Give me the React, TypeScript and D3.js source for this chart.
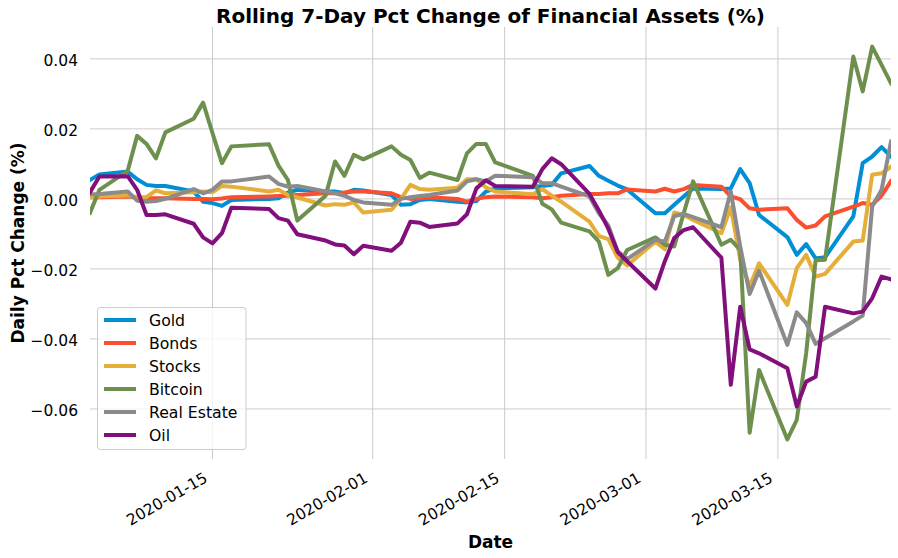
import React, {useEffect, useRef} from 'react';
import * as d3 from "d3";

// trading days shown on the chart
const dates = [
    "2020-01-02", "2020-01-03", "2020-01-06", "2020-01-07", "2020-01-08", "2020-01-09", "2020-01-10",
    "2020-01-13", "2020-01-14", "2020-01-15", "2020-01-16", "2020-01-17", "2020-01-21", "2020-01-22",
    "2020-01-23", "2020-01-24", "2020-01-27", "2020-01-28", "2020-01-29", "2020-01-30", "2020-01-31",
    "2020-02-03", "2020-02-04", "2020-02-05", "2020-02-06", "2020-02-07", "2020-02-10", "2020-02-11",
    "2020-02-12", "2020-02-13", "2020-02-14", "2020-02-18", "2020-02-19", "2020-02-20", "2020-02-21",
    "2020-02-24", "2020-02-25", "2020-02-26", "2020-02-27", "2020-02-28", "2020-03-02", "2020-03-03",
    "2020-03-04", "2020-03-05", "2020-03-06", "2020-03-09", "2020-03-10", "2020-03-11", "2020-03-12",
    "2020-03-13", "2020-03-16", "2020-03-17", "2020-03-18", "2020-03-19", "2020-03-20", "2020-03-23",
    "2020-03-24", "2020-03-25", "2020-03-26", "2020-03-27"
];

const gold = [
    0.0054, 0.0070, 0.0078, 0.0056, 0.0040, 0.0037, 0.0037, 0.0021, -0.0008, -0.0012, -0.0020, -0.0003,
    0.0000, 0.0002, 0.0018, 0.0026, 0.0021, 0.0021, 0.0016, 0.0026, 0.0024, 0.0011, -0.0017, -0.0015,
    -0.0003, 0.0000, -0.0008, -0.0010, -0.0006, 0.0021, 0.0030, 0.0033, 0.0037, 0.0040, 0.0073, 0.0094,
    0.0066, 0.0052, 0.0038, 0.0027, -0.0041, -0.0041, -0.0017, 0.0007, 0.0030, 0.0028, 0.0030, 0.0085,
    0.0045, -0.0046, -0.0109, -0.0160, -0.0129, -0.0170, -0.0167, -0.0050, 0.0102, 0.0121, 0.0148, 0.0121
];
const bonds = [
    0.0005, 0.0005, 0.0007, 0.0005, 0.0002, 0.0002, 0.0002, 0.0000, 0.0000, -0.0001, 0.0001, 0.0005,
    0.0007, 0.0008, 0.0009, 0.0011, 0.0016, 0.0016, 0.0018, 0.0021, 0.0021, 0.0016, 0.0005, 0.0000,
    0.0002, 0.0005, 0.0000, -0.0008, 0.0000, 0.0005, 0.0007, 0.0005, 0.0002, 0.0005, 0.0009, 0.0014,
    0.0014, 0.0016, 0.0016, 0.0027, 0.0021, 0.0029, 0.0021, 0.0028, 0.0040, 0.0035, 0.0007, -0.0001,
    -0.0027, -0.0031, -0.0027, -0.0060, -0.0082, -0.0076, -0.0050, -0.0022, -0.0012, -0.0017, 0.0009, 0.0051
];
const stocks = [
    0.0005, 0.0007, 0.0010, 0.0005, 0.0005, 0.0024, 0.0016, 0.0019, 0.0021, 0.0019, 0.0037, 0.0035,
    0.0021, 0.0026, 0.0011, 0.0004, -0.0019, -0.0015, -0.0017, -0.0010, -0.0039, -0.0031, 0.0000, 0.0040,
    0.0028, 0.0026, 0.0032, 0.0056, 0.0056, 0.0033, 0.0021, 0.0013, 0.0028, 0.0009, -0.0008, -0.0065,
    -0.0106, -0.0115, -0.0168, -0.0190, -0.0122, -0.0144, -0.0039, -0.0046, -0.0060, -0.0098, -0.0024, -0.0174,
    -0.0250, -0.0184, -0.0303, -0.0198, -0.0160, -0.0222, -0.0214, -0.0122, -0.0119, 0.0069, 0.0073, 0.0092
];
const bitcoin = [
    -0.0040, 0.0026, 0.0080, 0.0180, 0.0157, 0.0116, 0.0190, 0.0229, 0.0275, 0.0188, 0.0102, 0.0150,
    0.0156, 0.0095, 0.0054, -0.0062, 0.0009, 0.0107, 0.0066, 0.0126, 0.0113, 0.0150, 0.0126, 0.0111,
    0.0060, 0.0075, 0.0054, 0.0130, 0.0157, 0.0157, 0.0104, 0.0066, -0.0014, -0.0030, -0.0068, -0.0093,
    -0.0122, -0.0217, -0.0198, -0.0146, -0.0110, -0.0131, -0.0136, -0.0041, 0.0050, -0.0131, -0.0117, -0.0146,
    -0.0668, -0.0489, -0.0687, -0.0631, -0.0440, -0.0175, -0.0174, 0.0407, 0.0307, 0.0435, 0.0383, 0.0330
];
const realEstate = [
    0.0013, 0.0014, 0.0021, -0.0005, -0.0008, -0.0006, 0.0000, 0.0028, 0.0016, 0.0026, 0.0050, 0.0050,
    0.0064, 0.0043, 0.0035, 0.0037, 0.0021, 0.0016, 0.0009, -0.0003, -0.0010, -0.0017, 0.0000, 0.0005,
    0.0008, 0.0011, 0.0024, 0.0050, 0.0056, 0.0050, 0.0066, 0.0062, 0.0045, 0.0045, 0.0035, 0.0007,
    -0.0041, -0.0076, -0.0150, -0.0172, -0.0117, -0.0122, -0.0049, -0.0043, -0.0052, -0.0081, 0.0021, -0.0136,
    -0.0272, -0.0205, -0.0417, -0.0324, -0.0355, -0.0414, -0.0398, -0.0350, -0.0333, -0.0022, 0.0026, 0.0164
];
const oil = [
    0.0019, 0.0064, 0.0065, 0.0026, -0.0046, -0.0046, -0.0044, -0.0071, -0.0110, -0.0127, -0.0098, -0.0025,
    -0.0029, -0.0055, -0.0062, -0.0101, -0.0119, -0.0130, -0.0133, -0.0158, -0.0134, -0.0148, -0.0125, -0.0065,
    -0.0068, -0.0080, -0.0070, -0.0044, 0.0030, 0.0053, 0.0037, 0.0035, 0.0085, 0.0116, 0.0099, 0.0014,
    -0.0033, -0.0085, -0.0152, -0.0178, -0.0256, -0.0178, -0.0112, -0.0089, -0.0081, -0.0168, -0.0531, -0.0308,
    -0.0430, -0.0441, -0.0484, -0.0593, -0.0522, -0.0508, -0.0308, -0.0327, -0.0322, -0.0284, -0.0222, -0.0230
];

const seriesNames = ["Gold", "Bonds", "Stocks", "Bitcoin", "Real Estate", "Oil"];
const seriesValues = [gold, bonds, stocks, bitcoin, realEstate, oil];
const seriesColors = ["#008fd5", "#fc4f30", "#e5ae38", "#6d904f", "#8b8b8b", "#810f7c"];

const xTicks = ["2020-01-15", "2020-02-01", "2020-02-15", "2020-03-01", "2020-03-15"];
const yTicks = [-0.06, -0.04, -0.02, 0, 0.02, 0.04];

const FONT = "DejaVu Sans, Verdana, sans-serif";

function App() {
    const width = 898;
    const height = 558;
    const plot = {left: 90, right: 891, top: 27, bottom: 459};
    const ref = useRef<SVGSVGElement>(null);

    useEffect(() => {
        const parse = d3.timeParse("%Y-%m-%d");
        const parsed = dates.map(d => parse(d) as Date);
        const svg = d3.select(ref.current);
        svg.selectAll("*").remove();

        const x = d3.scaleTime()
            .domain(d3.extent(parsed) as [Date, Date])
            .range([plot.left, plot.right]);
        const y = d3.scaleLinear()
            .domain([-0.0743, 0.0491])
            .range([plot.bottom, plot.top]);
        const fmt = d3.format(".2f");

        svg.append("defs").append("clipPath").attr("id", "plot-clip")
            .append("rect")
            .attr("x", plot.left).attr("y", plot.top)
            .attr("width", plot.right - plot.left).attr("height", plot.bottom - plot.top);

        // grid
        const grid = svg.append("g").attr("stroke", "#cbcbcb").attr("stroke-width", 1);
        grid.selectAll("line.h").data(yTicks).enter().append("line")
            .attr("x1", plot.left).attr("x2", plot.right)
            .attr("y1", d => y(d)).attr("y2", d => y(d));
        grid.selectAll("line.v").data(xTicks).enter().append("line")
            .attr("y1", plot.top).attr("y2", plot.bottom)
            .attr("x1", d => x(parse(d) as Date)).attr("x2", d => x(parse(d) as Date));

        // tick labels
        svg.append("g").selectAll("text").data(yTicks).enter().append("text")
            .attr("x", 78).attr("y", d => y(d) + 7)
            .attr("text-anchor", "end")
            .style("font-family", FONT).style("font-size", "15.5px").attr("fill", "#000")
            .text(d => fmt(d));
        svg.append("g").selectAll("text").data(xTicks).enter().append("text")
            .attr("transform", d => "translate(" + (x(parse(d) as Date) - 4) + ",481) rotate(-30)")
            .attr("text-anchor", "end")
            .style("font-family", FONT).style("font-size", "15.5px").attr("fill", "#000")
            .text(d => d);

        // lines
        const line = d3.line<number>()
            .x((d, i) => x(parsed[i]))
            .y(d => y(d));
        svg.append("g").attr("clip-path", "url(#plot-clip)")
            .selectAll("path").data(seriesValues).enter().append("path")
            .attr("d", d => line(d))
            .attr("fill", "none")
            .attr("stroke", (d, i) => seriesColors[i])
            .attr("stroke-width", 4)
            .attr("stroke-linejoin", "round")
            .attr("stroke-linecap", "square");

        // titles
        svg.append("text")
            .attr("x", (plot.left + plot.right) / 2).attr("y", 23)
            .attr("text-anchor", "middle")
            .style("font-family", FONT).style("font-size", "20px").style("font-weight", "bold")
            .text("Rolling 7-Day Pct Change of Financial Assets (%)");
        svg.append("text")
            .attr("x", (plot.left + plot.right) / 2).attr("y", 548)
            .attr("text-anchor", "middle")
            .style("font-family", FONT).style("font-size", "17px").style("font-weight", "bold")
            .text("Date");
        svg.append("text")
            .attr("transform", "translate(24," + (plot.top + plot.bottom) / 2 + ") rotate(-90)")
            .attr("text-anchor", "middle")
            .style("font-family", FONT).style("font-size", "17px").style("font-weight", "bold")
            .text("Daily Pct Change (%)");

        // legend
        const legend = svg.append("g");
        legend.append("rect")
            .attr("x", 97.5).attr("y", 307.5).attr("width", 148.5).attr("height", 142)
            .attr("rx", 3)
            .attr("fill", "#fff").attr("fill-opacity", 0.8)
            .attr("stroke", "#cccccc").attr("stroke-width", 1);
        const rows = legend.selectAll("g").data(seriesNames).enter().append("g")
            .attr("transform", (d, i) => "translate(0," + (320 + i * 23) + ")");
        rows.append("line")
            .attr("x1", 104).attr("x2", 136)
            .attr("stroke", (d, i) => seriesColors[i]).attr("stroke-width", 4);
        rows.append("text")
            .attr("x", 149).attr("y", 5.7)
            .style("font-family", FONT).style("font-size", "15.7px").attr("fill", "#000")
            .text(d => d);
    }, []);

    return (
        <div>
            <style>{"body{margin:0}"}</style>
            <svg ref={ref} width={width} height={height} style={{display: "block", background: "#fff"}}>
            </svg>
        </div>
    );
}

export default App;
